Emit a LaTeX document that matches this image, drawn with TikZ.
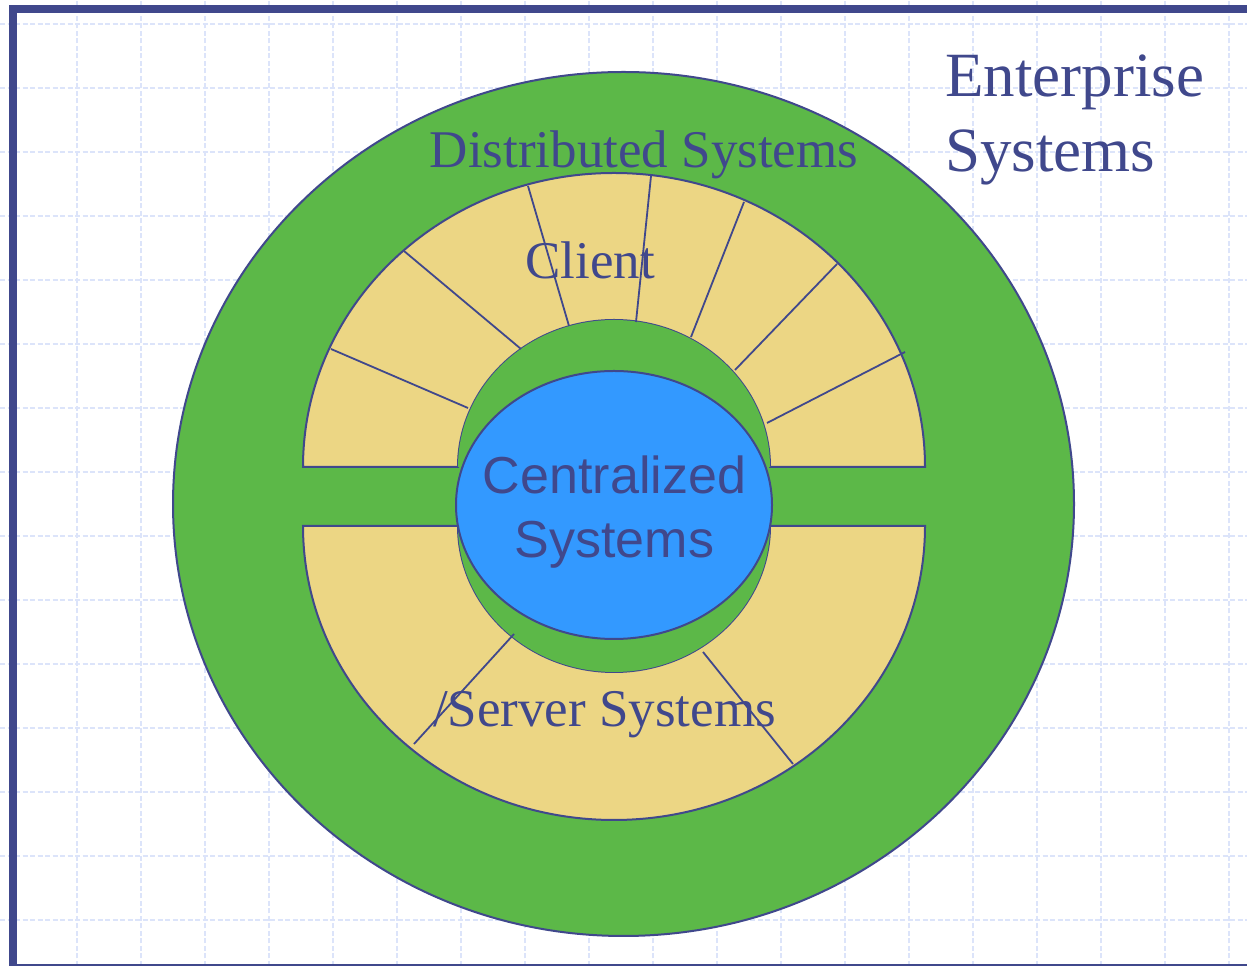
\documentclass[tikz,border=0pt]{standalone}
\usepackage{fontspec}
\setmainfont{Liberation Serif}
\setsansfont{Liberation Sans}
\definecolor{ink}{RGB}{64,72,140}
\definecolor{ringgreen}{RGB}{92,184,72}
\definecolor{sand}{RGB}{236,214,132}
\definecolor{core}{RGB}{51,153,255}
\definecolor{gridblue}{RGB}{220,228,250}
\tikzset{
  outline/.style={draw=ink, line width=2pt},
  spoke/.style={draw=ink, line width=1.8pt},
  gridline/.style={draw=gridblue, line width=1.4pt, dash pattern=on 5pt off 2.5pt},
  serifcap/.style={text=ink, inner sep=0pt, font=\fontsize{53}{60}\selectfont},
  serifbig/.style={text=ink, inner sep=0pt, font=\fontsize{63}{75}\selectfont},
  sanscap/.style={text=ink, inner sep=0pt, font=\sffamily\fontsize{52}{58}\selectfont},
}
\begin{document}
\begin{tikzpicture}[x=1pt,y=1pt]
\useasboundingbox (0,0) rectangle (1247,966);
\fill[white] (0,0) rectangle (1247,966);

% background grid
\foreach \gx in {77,141,...,1247} \draw[gridline] (\gx,0) -- (\gx,966);
\foreach \gy in {46,110,...,966} \draw[gridline] (0,\gy) -- (1247,\gy);

% frame
\fill[ink] (9,0) rectangle (16.7,961);
\fill[ink] (9,953.3) rectangle (1247,961);
\draw[ink, line width=1.5pt] (9,1) -- (1247,1);

% outer ring: enterprise systems
\draw[outline, fill=ringgreen] (623.5,462) ellipse [x radius=450.5, y radius=432];

% upper half ring (client side)
\draw[outline, fill=sand]
  (303,499) arc[start angle=180, end angle=0, x radius=311, y radius=294]
  -- (770,499) arc[start angle=0, end angle=180, x radius=156, y radius=147]
  -- cycle;
\fill[ringgreen] (458,499) arc[start angle=180, end angle=0, x radius=156, y radius=147] -- cycle;

% lower half ring (server side)
\draw[outline, fill=sand]
  (303,440) arc[start angle=180, end angle=360, x radius=311, y radius=294]
  -- (770,440) arc[start angle=360, end angle=180, x radius=156, y radius=146]
  -- cycle;
\fill[ringgreen] (458,440) arc[start angle=180, end angle=360, x radius=156, y radius=146] -- cycle;

% spokes
\coordinate (s1a) at (468,558); \coordinate (s1b) at (331,617);
\coordinate (s2a) at (521,617); \coordinate (s2b) at (404,715);
\coordinate (s3a) at (569,640); \coordinate (s3b) at (528,780);
\coordinate (s4a) at (636,644); \coordinate (s4b) at (651,790);
\coordinate (s5a) at (691,629); \coordinate (s5b) at (744,764);
\coordinate (s6a) at (735,596); \coordinate (s6b) at (837,702);
\coordinate (s7a) at (767,543); \coordinate (s7b) at (905,614);
\coordinate (s8a) at (514,332); \coordinate (s8b) at (414,222);
\coordinate (s9a) at (703,314); \coordinate (s9b) at (793,202);
\foreach \s in {1,...,9} \draw[spoke] (s\s a) -- (s\s b);

% core
\draw[outline, fill=core] (614,461) ellipse [x radius=158, y radius=134];

% labels
\node[serifbig, anchor=base west] (ent1) at (945,869) {Enterprise};
\node[serifbig, anchor=base west] (ent2) at (945,794) {Systems};
\node[serifcap, anchor=base] (dist) at (644,798) {Distributed Systems};
\node[serifcap, anchor=base] (client) at (590,687) {Client};
\node[serifcap, anchor=base] (server) at (604.5,239) {/Server Systems};
\node[sanscap, anchor=base] (cent1) at (614.5,472) {Centralized};
\node[sanscap, anchor=base] (cent2) at (614.5,408) {Systems};
\end{tikzpicture}
\end{document}
